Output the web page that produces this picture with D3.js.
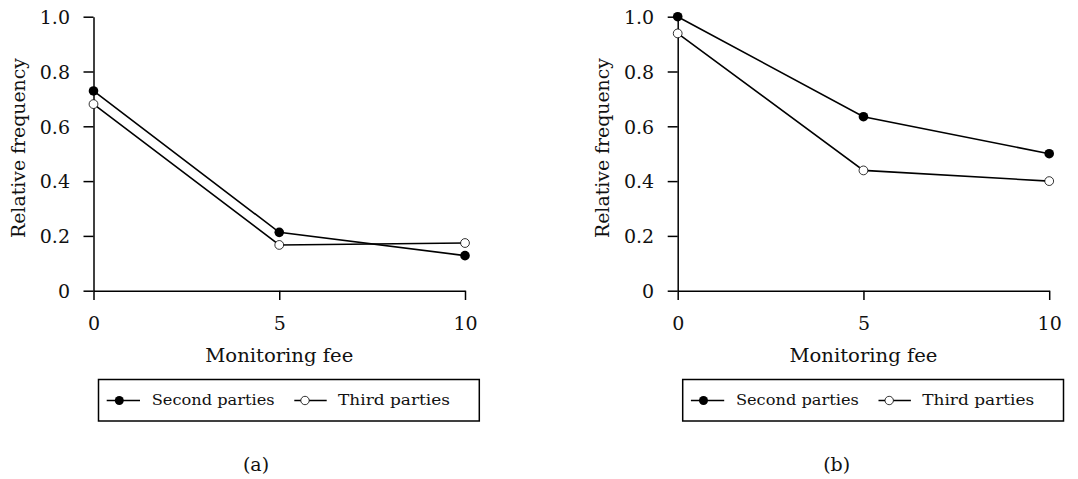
<!DOCTYPE html>
<html>
<head>
<meta charset="utf-8">
<script src="https://cdn.jsdelivr.net/npm/d3@7"></script>
<style>
  html, body { margin: 0; padding: 0; background: #fff; }
  svg { display: block; }
</style>
</head>
<body>
<svg id="chart" width="1078" height="479"></svg>
<script>
// Monitoring fee levels on the x axis
const fees = [0, 5, 10];
const feeTickLabels = ["0", "5", "10"];

// Relative frequency ticks
const freqTicks = [0, 0.2, 0.4, 0.6, 0.8, 1.0];
const freqTickLabels = ["0", "0.2", "0.4", "0.6", "0.8", "1.0"];

// Series names
const seriesNames = ["Second parties", "Third parties"];

// Panel (a)
const secondA = [0.729, 0.213, 0.128];
const thirdA  = [0.681, 0.167, 0.174];

// Panel (b)
const secondB = [1.0, 0.635, 0.5];
const thirdB  = [0.939, 0.439, 0.40];

const captions = ["(a)", "(b)"];

const SERIF = '"DejaVu Serif", "Liberation Serif", "Times New Roman", serif';

const svg = d3.select("#chart");

const panels = [
  { ox: 93.5,  second: secondA, third: thirdA, caption: captions[0], capX: 256 },
  { ox: 677.7, second: secondB, third: thirdB, caption: captions[1], capX: 836.7 }
];

const plotW = 371.5, yTop = 16.7, yBot = 290.7;
const FONT = 19;

function serif(sel, size) {
  return sel.style("font-family", SERIF).style("font-size", size + "px").style("fill", "#111");
}

panels.forEach(p => {
  const g = svg.append("g");
  const x = d3.scaleLinear().domain([0, 10]).range([p.ox, p.ox + plotW]);
  const y = d3.scaleLinear().domain([0, 1]).range([yBot, yTop]);

  // y axis
  const yAxis = g.append("g")
    .attr("transform", `translate(${p.ox},0)`)
    .call(d3.axisLeft(y).tickValues(freqTicks)
      .tickFormat((d, i) => freqTickLabels[i])
      .tickSize(10).tickPadding(13.5).tickSizeOuter(0));
  // x axis
  const xAxis = g.append("g")
    .attr("transform", `translate(0,${yBot})`)
    .call(d3.axisBottom(x).tickValues(fees)
      .tickFormat((d, i) => feeTickLabels[i])
      .tickSize(9.3).tickSizeOuter(0));

  [yAxis, xAxis].forEach(a => {
    a.selectAll(".domain, .tick line").attr("stroke", "#000").attr("stroke-width", 1.5);
    serif(a.selectAll("text"), FONT);
  });
  xAxis.selectAll("text").attr("y", 330 - yBot).attr("dy", 0);
  yAxis.selectAll("text").attr("dy", "0.36em");

  // axis titles
  serif(g.append("text"), FONT)
    .attr("transform", `translate(${p.ox - 68.5},148) rotate(-90)`)
    .attr("text-anchor", "middle")
    .attr("textLength", 180).attr("lengthAdjust", "spacingAndGlyphs")
    .text("Relative frequency");
  serif(g.append("text"), FONT)
    .attr("x", p.ox + plotW / 2).attr("y", 361.5)
    .attr("text-anchor", "middle")
    .attr("textLength", 148).attr("lengthAdjust", "spacingAndGlyphs")
    .text("Monitoring fee");

  // lines
  const line = d3.line().x((d, i) => x(fees[i])).y(d => y(d));
  [p.third, p.second].forEach(s => {
    g.append("path").datum(s).attr("d", line)
      .attr("fill", "none").attr("stroke", "#000").attr("stroke-width", 1.6);
  });
  // markers
  g.selectAll(".m3").data(p.third).join("circle")
    .attr("cx", (d, i) => x(fees[i])).attr("cy", d => y(d)).attr("r", 4.4)
    .attr("fill", "#fff").attr("stroke", "#000").attr("stroke-width", 0.8);
  g.selectAll(".m2").data(p.second).join("circle")
    .attr("cx", (d, i) => x(fees[i])).attr("cy", d => y(d)).attr("r", 4.8)
    .attr("fill", "#000");

  // legend
  const lg = g.append("g").attr("transform", `translate(${p.ox},0)`);
  lg.append("rect").attr("x", 5).attr("y", 379.5).attr("width", 380.8).attr("height", 41.5)
    .attr("fill", "#fff").attr("stroke", "#000").attr("stroke-width", 1.5);
  const entries = [
    { name: seriesNames[0], l0: 13.2, l1: 46.5, m: 25.8, tx: 58.2, tl: 123, filled: true },
    { name: seriesNames[1], l0: 200.8, l1: 233.2, m: 211.5, tx: 244.5, tl: 112, filled: false }
  ];
  entries.forEach(e => {
    lg.append("line").attr("x1", e.l0).attr("x2", e.l1).attr("y1", 400.5).attr("y2", 400.5)
      .attr("stroke", "#000").attr("stroke-width", 1.6);
    lg.append("circle").attr("cx", e.m).attr("cy", 400.5).attr("r", e.filled ? 4.5 : 4.2)
      .attr("fill", e.filled ? "#000" : "#fff").attr("stroke", "#000").attr("stroke-width", e.filled ? 0 : 0.8);
    serif(lg.append("text"), 14)
      .attr("x", e.tx).attr("y", 405)
      .attr("textLength", e.tl).attr("lengthAdjust", "spacingAndGlyphs")
      .text(e.name);
  });

  // caption
  serif(svg.append("text"), FONT)
    .attr("x", p.capX).attr("y", 471)
    .attr("text-anchor", "middle")
    .text(p.caption);
});
</script>
</body>
</html>
